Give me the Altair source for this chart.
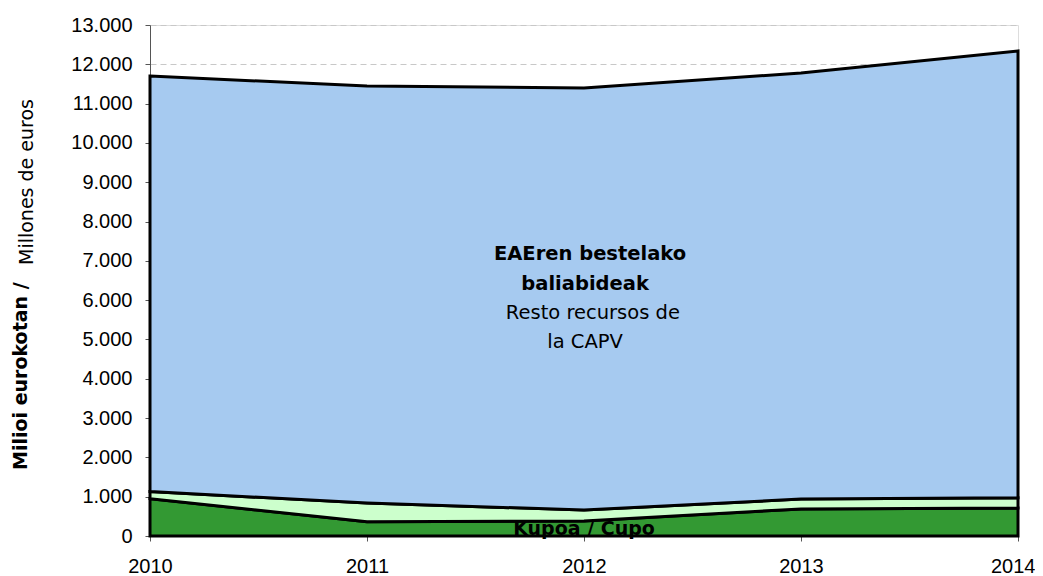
import altair as alt
import pandas as pd

years = [2010, 2011, 2012, 2013, 2014]
cupo = [950, 360, 380, 690, 710]
middle = [180, 480, 280, 250, 260]
resto = [10570, 10610, 10740, 10840, 11370]
ticks_y = list(range(0, 13001, 1000))

rows = []
for i, yr in enumerate(years):
    t1 = cupo[i]
    t2 = t1 + middle[i]
    t3 = t2 + resto[i]
    rows.append({"year": yr, "serie": "Kupoa / Cupo", "lo": 0, "hi": t1, "o": 3})
    rows.append({"year": yr, "serie": "Otros", "lo": t1, "hi": t2, "o": 2})
    rows.append({"year": yr, "serie": "Resto", "lo": t2, "hi": t3, "o": 1})
df = pd.DataFrame(rows)

AXFONT = "Liberation Sans"
FONT = "DejaVu Sans"

xscale = alt.Scale(domain=[2010, 2014], nice=False, zero=False)
yscale = alt.Scale(domain=[0, 13000], nice=False)

xaxis = alt.Axis(values=years, format="d", title=None, grid=False,
                 labelFont=AXFONT, labelFontSize=20, labelColor="black",
                 labelPadding=15, tickSize=5, tickColor="#555555",
                 labelAlign={"condition": {"test": "datum.value == 2014", "value": "right"}, "value": "center"},
                 labelOffset={"condition": {"test": "datum.value == 2014", "value": 17}, "value": 0},
                 labelFlush=False, labelOverlap=False, labelBound=False, domain=False)
yaxis = alt.Axis(values=ticks_y, title=None,
                 labelExpr="replace(format(datum.value, ',d'), ',', '.')",
                 labelFont=AXFONT, labelFontSize=20, labelColor="black",
                 labelPadding=13, tickSize=5, tickColor="#555555",
                 labelOverlap=False, labelFlush=False, labelBound=False,
                 domainColor="#555555", domainWidth=1,
                 grid=True, gridDash=[6, 4], gridColor="#c8c8c8", gridWidth=1)

areas = alt.Chart(df).mark_area(stroke="black", strokeWidth=3, strokeJoin="miter", opacity=1).encode(
    x=alt.X("year:Q", scale=xscale, axis=xaxis),
    y=alt.Y("hi:Q", scale=yscale, axis=yaxis),
    y2="lo:Q",
    color=alt.Color("serie:N", legend=None,
                    scale=alt.Scale(domain=["Kupoa / Cupo", "Otros", "Resto"],
                                    range=["#339933", "#CCFFCC", "#A6CAF0"])),
    detail="serie:N",
    order=alt.Order("o:Q"),
)

labels_df = pd.DataFrame([
    {"t": "EAEren bestelako", "x": 2012.028, "y": 7174, "w": "bold"},
    {"t": "baliabideak", "x": 2012.005, "y": 6411, "w": "bold"},
    {"t": "Resto recursos de", "x": 2012.041, "y": 5673, "w": "normal"},
    {"t": "la CAPV", "x": 2012.005, "y": 4935, "w": "normal"},
])

bold_txt = alt.Chart(labels_df[labels_df.w == "bold"]).mark_text(
    font=FONT, fontSize=19.5, fontWeight="bold", color="black", align="center", baseline="middle"
).encode(x=alt.X("x:Q", scale=xscale, axis=xaxis), y=alt.Y("y:Q", scale=yscale, axis=yaxis), text="t:N")

norm_txt = alt.Chart(labels_df[labels_df.w == "normal"]).mark_text(
    font=FONT, fontSize=19.5, color="black", align="center", baseline="middle"
).encode(x=alt.X("x:Q", scale=xscale, axis=xaxis), y=alt.Y("y:Q", scale=yscale, axis=yaxis), text="t:N")

cupo_df = pd.DataFrame([{"t": "Kupoa / Cupo", "x": 2012.0, "y": 0}])
cupo_txt = alt.Chart(cupo_df).mark_text(
    font=FONT, fontSize=19, fontWeight="bold", color="black", align="center", baseline="alphabetic", dy=-1
).encode(x=alt.X("x:Q", scale=xscale, axis=xaxis), y=alt.Y("y:Q", scale=yscale, axis=yaxis), text="t:N")

axis_line = alt.Chart(pd.DataFrame({"y": [0]})).mark_rule(color="black", strokeWidth=2).encode(
    y=alt.Y("y:Q", scale=yscale, axis=yaxis), x=alt.value(0), x2=alt.value(868))

ytitle_bold = alt.Chart(pd.DataFrame({"t": ["Milioi eurokotan / "]})).mark_text(
    font=FONT, fontSize=19, fontWeight="bold", color="black", angle=270, align="left", baseline="alphabetic"
).encode(text="t:N", x=alt.value(-123), y=alt.value(445))

ytitle_norm = alt.Chart(pd.DataFrame({"t": ["Millones de euros"]})).mark_text(
    font=FONT, fontSize=19, color="black", angle=270, align="left", baseline="alphabetic"
).encode(text="t:N", x=alt.value(-117), y=alt.value(240))

chart = alt.layer(areas, axis_line, bold_txt, norm_txt, cupo_txt, ytitle_bold, ytitle_norm).properties(
    width=868, height=511,
    autosize=alt.AutoSizeParams(type="none"),
    padding={"left": 142, "top": 17, "right": 17, "bottom": 40},
).configure_view(stroke=None).configure_axis(labelOverlap=False).configure(background="white")

chart.save("out.html", embed_options={"renderer": "svg", "actions": False})
